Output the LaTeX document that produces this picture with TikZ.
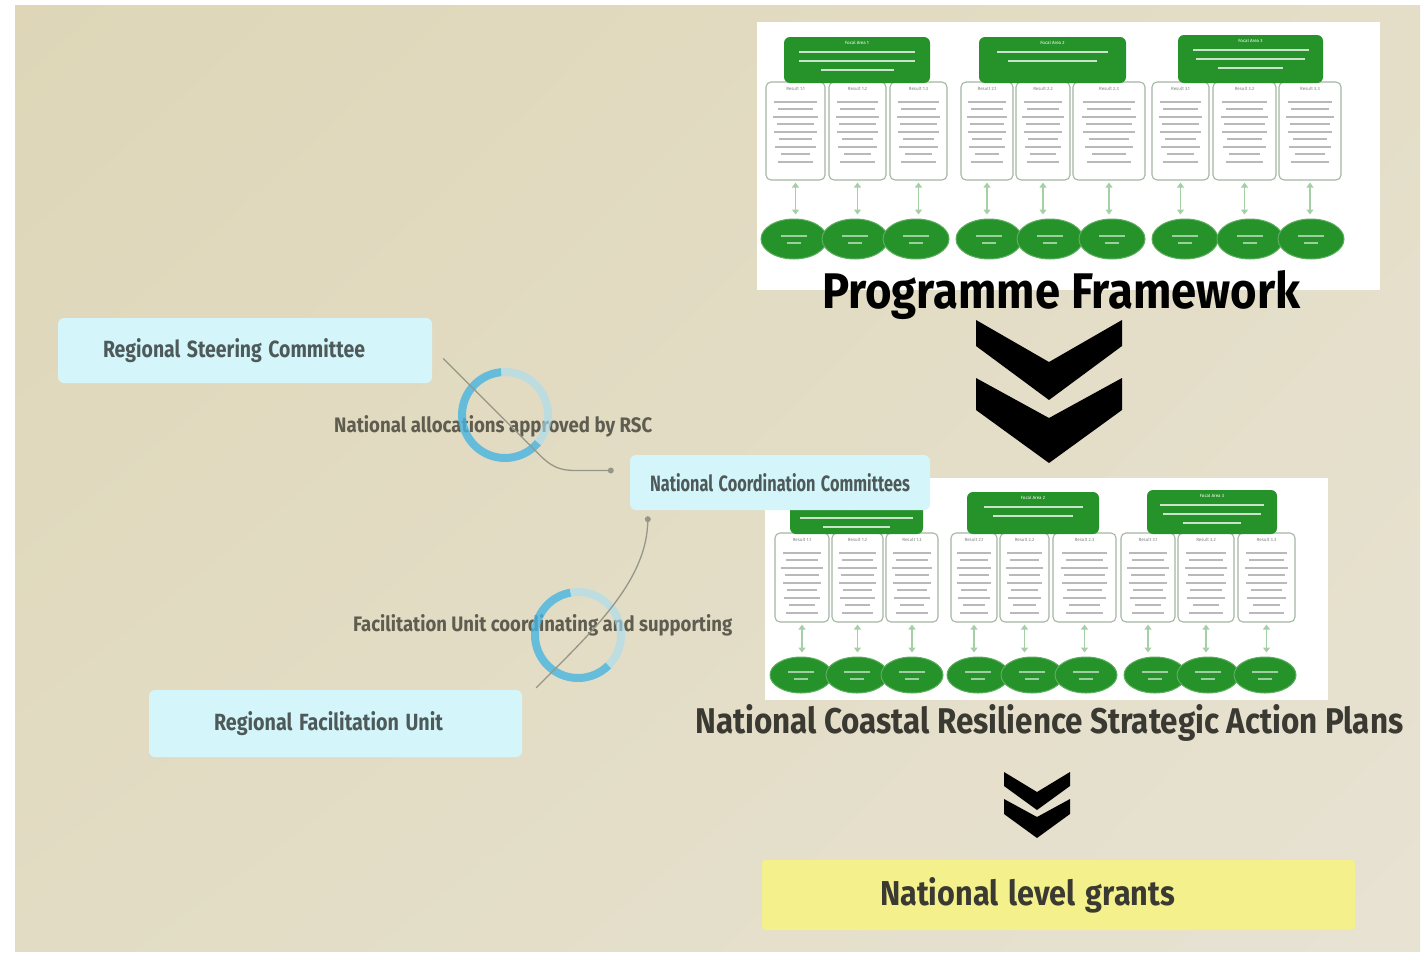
\documentclass[tikz,border=0pt]{standalone}
\usepackage{fontspec}
\setmainfont{Fira Sans}
\usepackage{graphicx}
\usetikzlibrary{arrows.meta,calc,shapes.geometric,shadings}

\definecolor{fgreen}{RGB}{38,146,42}
\definecolor{resline}{RGB}{165,182,165}
\definecolor{arrgreen}{RGB}{165,208,165}
\definecolor{cyanbox}{RGB}{212,246,250}
\definecolor{nodetext}{RGB}{78,90,90}
\definecolor{labtext}{RGB}{95,92,80}
\definecolor{conncol}{RGB}{150,150,135}
\definecolor{ringdark}{RGB}{70,180,225}
\definecolor{ringlight}{RGB}{170,222,240}
\definecolor{grantfill}{RGB}{244,240,140}
\definecolor{titletext}{RGB}{58,58,50}
\definecolor{bgul}{RGB}{222,214,183}
\definecolor{bgur}{RGB}{228,222,200}
\definecolor{bgll}{RGB}{226,220,196}
\definecolor{bglr}{RGB}{231,226,210}

\newcommand\fitt[3]{\resizebox{#1pt}{#2pt}{\bfseries #3}}

\newcommand\resnode[6]{%
  \node[resb, minimum width={#4-#2}, minimum height={#5-#3}] (#1) at ({(#2+#4)/2},{(#3+#5)/2}) {};
  \node[tinyg, anchor=north] (#1t) at ($(#1.north)+(0,5)$) {Result #6};
  \foreach \k/\f in \barlist {\fill[barg] ($(#1.north)+({-\f*(#4-#2)*0.4},{12+\k*\barsp})$) rectangle ++({\f*(#4-#2)*0.8},1.8);}
}
\newcommand\hdrnode[7]{%
  \node[hdrb, minimum width={#4-#2}, minimum height={#5-#3}] (#1) at ({(#2+#4)/2},{(#3+#5)/2}) {};
  \node[tinyw, anchor=north] (#1t) at ($(#1.north)+(0,4)$) {Focal Area #6};
  \foreach \k/\f in {#7} {\fill[barw] ($(#1.north)+({-\f*(#4-#2)/2},{5+\k*9})$) rectangle ++({\f*(#4-#2)},1.8);}
}
\newcommand\hubnode[5]{%
  \node[hubb, minimum width=#4, minimum height=#5] (#1) at (#2,#3) {};
  \fill[barh] ($(#1)+(-13,-4)$) rectangle ++(26,1.6);
  \fill[barh] ($(#1)+(-7,3)$) rectangle ++(14,1.6);
}
\newcommand\hubarr[2]{\draw[hubarrow] (#1.south) -- (#1.south |- #2.north);}

\begin{document}
\begin{tikzpicture}[x=1pt,y=-1pt,
  resb/.style={draw=resline, line width=1.1pt, fill=white, rounded corners=5pt, inner sep=0pt},
  hdrb/.style={fill=fgreen, rounded corners=6pt, inner sep=0pt},
  hubb/.style={ellipse, fill=fgreen, draw=fgreen!75!white, line width=1pt, inner sep=0pt},
  hubarrow/.style={draw=arrgreen, line width=1.6pt, shorten <=2pt, shorten >=4pt,
     {Triangle[length=5pt,width=7pt]}-{Triangle[length=5pt,width=7pt]}},
  tinyg/.style={font=\fontsize{4.5}{5}\selectfont, inner sep=0pt, text=gray},
  tinyw/.style={font=\fontsize{4.5}{5}\selectfont, inner sep=0pt, text=white},
  barg/.style={fill=gray!55},
  barw/.style={fill=white!75!fgreen},
  barh/.style={fill=white!55!fgreen},
  cbox/.style={fill=cyanbox, rounded corners=6pt, inner ysep=0pt, text=nodetext, align=left},
  conn/.style={draw=conncol, line width=1.3pt},
  ringd/.style={draw=ringdark, line width=8pt, opacity=0.8},
  ringl/.style={draw=ringlight, line width=8pt, opacity=0.65},
  chev/.style={fill=black}
]
\useasboundingbox (0,0) rectangle (1422,956);
\fill[white] (0,0) rectangle (1422,956);
\shade[upper left=bgul, upper right=bgur, lower left=bgll, lower right=bglr] (15,5) rectangle (1420,951);

% ---------- top framework ----------
\fill[white] (757,22) rectangle (1380,290);
\def\barlist{1/0.9,2/0.75,3/0.95,4/0.8,5/0.9,6/0.7,7/0.85,8/0.6,9/0.75}
\def\barsp{7.5}
\resnode{ta}{766}{82}{825}{180}{1.1}
\resnode{tb}{829}{82}{886}{180}{1.2}
\resnode{tc}{890}{82}{947}{180}{1.3}
\resnode{td}{961}{82}{1013}{180}{2.1}
\resnode{te}{1016}{82}{1070}{180}{2.2}
\resnode{tf}{1073}{82}{1145}{180}{2.3}
\resnode{tg}{1152}{82}{1209}{180}{3.1}
\resnode{th}{1213}{82}{1276}{180}{3.2}
\resnode{ti}{1279}{82}{1341}{180}{3.3}
\hdrnode{tha}{784}{37}{930}{83}{1}{1/0.8,2/0.8,3/0.5}
\hdrnode{thb}{979}{37}{1126}{83}{2}{1/0.75,2/0.6}
\hdrnode{thc}{1178}{35}{1323}{83}{3}{1/0.8,2/0.75,3/0.45}
\hubnode{tea}{794}{239}{66}{40}
\hubnode{teb}{855}{239}{66}{40}
\hubnode{tec}{916}{239}{66}{40}
\hubnode{ted}{989}{239}{66}{40}
\hubnode{tee}{1050}{239}{66}{40}
\hubnode{tef}{1112}{239}{66}{40}
\hubnode{teg}{1185}{239}{66}{40}
\hubnode{teh}{1250}{239}{66}{40}
\hubnode{tei}{1311}{239}{66}{40}
\hubarr{ta}{tea}\hubarr{tb}{teb}\hubarr{tc}{tec}
\hubarr{td}{ted}\hubarr{te}{tee}\hubarr{tf}{tef}
\hubarr{tg}{teg}\hubarr{th}{teh}\hubarr{ti}{tei}

\node[anchor=base west, inner sep=0pt, text=black] (pf) at (822,308) {\fitt{478}{38}{Programme Framework}};

% ---------- chevrons ----------
\fill[chev] (976,320) -- (1049,362) -- (1122,320) -- (1122,346) -- (1049,400) -- (976,346) -- cycle;
\fill[chev] (976,378) -- (1049,418) -- (1122,378) -- (1122,410) -- (1049,463) -- (976,410) -- cycle;

% ---------- bottom framework ----------
\fill[white] (765,478) rectangle (1328,700);
\resnode{ba}{775}{533}{829}{622}{1.1}
\resnode{bb}{832}{533}{883}{622}{1.2}
\resnode{bc}{886}{533}{938}{622}{1.3}
\resnode{bd}{951}{533}{997}{622}{2.1}
\resnode{be}{1000}{533}{1049}{622}{2.2}
\resnode{bf}{1053}{533}{1116}{622}{2.3}
\resnode{bg}{1121}{533}{1175}{622}{3.1}
\resnode{bh}{1178}{533}{1234}{622}{3.2}
\resnode{bi}{1238}{533}{1295}{622}{3.3}
\hdrnode{bha}{790}{503}{923}{534}{1}{1/0.85,2/0.5}
\hdrnode{bhb}{967}{492}{1099}{534}{2}{1/0.75,2/0.6}
\hdrnode{bhc}{1147}{490}{1277}{534}{3}{1/0.8,2/0.75,3/0.45}
\hubnode{bea}{801}{675}{62}{36}
\hubnode{beb}{857}{675}{62}{36}
\hubnode{bec}{912}{675}{62}{36}
\hubnode{bed}{978}{675}{62}{36}
\hubnode{bee}{1032}{675}{62}{36}
\hubnode{bef}{1086}{675}{62}{36}
\hubnode{beg}{1155}{675}{62}{36}
\hubnode{beh}{1208}{675}{62}{36}
\hubnode{bei}{1265}{675}{62}{36}
\hubarr{ba}{bea}\hubarr{bb}{beb}\hubarr{bc}{bec}
\hubarr{bd}{bed}\hubarr{be}{bee}\hubarr{bf}{bef}
\hubarr{bg}{beg}\hubarr{bh}{beh}\hubarr{bi}{bei}

\node[anchor=base west, inner sep=0pt, text=titletext] (ncr) at (695,733) {\fitt{708}{29}{National Coastal Resilience Strategic Action Plans}};

\fill[chev] (1004,772) -- (1037,792) -- (1070,772) -- (1070,786) -- (1037,810) -- (1004,786) -- cycle;
\fill[chev] (1004,799) -- (1037,817) -- (1070,799) -- (1070,814) -- (1037,838) -- (1004,814) -- cycle;

\node[fill=grantfill, rounded corners=3pt, minimum height=70, inner ysep=0pt, inner xsep=118, text width=357, align=left, text=titletext] (grants) at (1058.5,895) {\fitt{295}{28}{National level grants}};

% ---------- left part ----------
\node[cbox, minimum height=65, inner xsep=45, text width=284] (rsc) at (245,350.5) {\fitt{262}{19}{Regional Steering Committee}};
\node[cbox, minimum height=55, inner xsep=20, text width=260] (ncc) at (780,482.5) {\fitt{260}{18}{National Coordination Committees}};
\node[cbox, minimum height=67, inner xsep=65, text width=243] (rfu) at (335.5,723.5) {\fitt{229}{19}{Regional Facilitation Unit}};

\coordinate (a1) at ($(rsc.east)+(11,8)$);
\coordinate (a2) at ($(ncc.west)+(-19,-12)$);
\coordinate (b1) at ($(rfu.north east)+(14,-2)$);
\coordinate (b2) at ($(ncc.south west)+(18,9)$);

\node[anchor=base west, inner sep=0pt, text=labtext] (lab1) at (334,432) {\fitt{318}{17}{National allocations approved by RSC}};
\node[anchor=base west, inner sep=0pt, text=labtext] (lab2) at (353,631) {\fitt{379}{17}{Facilitation Unit coordinating and supporting}};

\draw[ringd] plot[domain=95:320, samples=60] ({505+43*cos(\x)},{415-43*sin(\x)});
\draw[ringl] plot[domain=-40:95, samples=40] ({505+43*cos(\x)},{415-43*sin(\x)});
\draw[ringd] plot[domain=100:315, samples=60] ({578+43*cos(\x)},{635-43*sin(\x)});
\draw[ringl] plot[domain=-45:100, samples=40] ({578+43*cos(\x)},{635-43*sin(\x)});

\draw[conn] (a1) -- ++(97,97) .. controls +(12,12) and +(-15,0) .. ($(a2)+(-35,0)$) -- (a2);
\fill[conncol] (a2) circle[radius=3];
\draw[conn] (b1) .. controls +(60,-60) and +(0,60) .. (b2);
\fill[conncol] (b2) circle[radius=3];
\end{tikzpicture}
\end{document}
